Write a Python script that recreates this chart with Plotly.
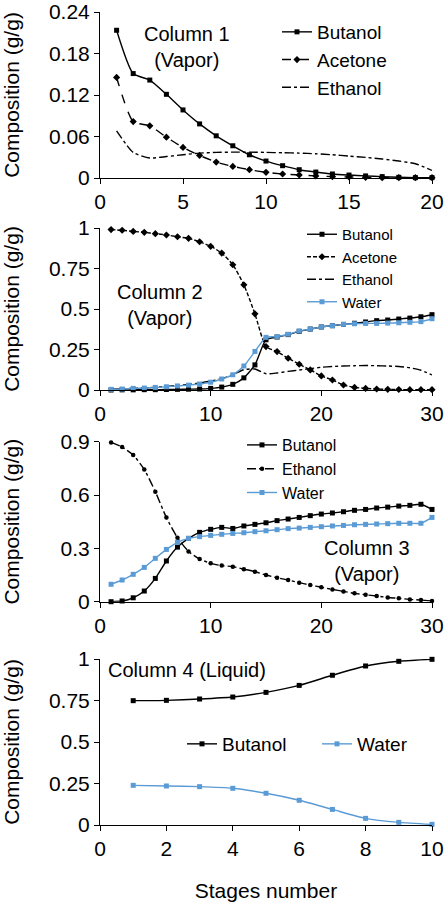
import plotly.graph_objects as go

FONT = "Liberation Sans, Arial, sans-serif"
BLUE = "#5B9BD5"

# ---------------- data ----------------
stages_c1 = list(range(1, 21))
c1_butanol = [0.2136, 0.151, 0.1416, 0.121, 0.0984, 0.0782, 0.061, 0.0466, 0.0336, 0.0245,
              0.0178, 0.012, 0.0086, 0.0058, 0.0043, 0.003, 0.002, 0.001, 0.0005, 0.0005]
c1_acetone = [0.1454, 0.0816, 0.0754, 0.059, 0.0442, 0.0326, 0.023, 0.0168, 0.012, 0.0082,
              0.0058, 0.0043, 0.003, 0.002, 0.0015, 0.001, 0.0005, 0.0005, 0.0005, 0.0005]
c1_ethanol = [0.068, 0.037, 0.029, 0.031, 0.0336, 0.036, 0.037, 0.0374, 0.0374, 0.037,
              0.0365, 0.036, 0.035, 0.0336, 0.0317, 0.0298, 0.0274, 0.0245, 0.0206, 0.011]

stages_c2 = list(range(1, 31))
c2_butanol = [0.000, 0.001, 0.001, 0.002, 0.002, 0.003, 0.004, 0.005, 0.006, 0.010,
              0.018, 0.035, 0.075, 0.155, 0.310, 0.327, 0.342, 0.362, 0.376, 0.389,
              0.397, 0.405, 0.412, 0.420, 0.428, 0.432, 0.438, 0.444, 0.452, 0.465]
c2_acetone = [0.990, 0.986, 0.979, 0.973, 0.965, 0.957, 0.946, 0.936, 0.915, 0.887,
              0.845, 0.773, 0.649, 0.470, 0.268, 0.237, 0.196, 0.159, 0.124, 0.087,
              0.062, 0.031, 0.016, 0.010, 0.006, 0.004, 0.003, 0.002, 0.002, 0.002]
c2_ethanol = [0.005, 0.007, 0.010, 0.013, 0.017, 0.022, 0.028, 0.035, 0.043, 0.055,
              0.070, 0.095, 0.125, 0.130, 0.100, 0.105, 0.115, 0.123, 0.132, 0.140,
              0.145, 0.148, 0.150, 0.151, 0.150, 0.148, 0.145, 0.137, 0.122, 0.093]
c2_water = [0.004, 0.006, 0.010, 0.012, 0.016, 0.020, 0.025, 0.030, 0.037, 0.048,
            0.068, 0.094, 0.148, 0.238, 0.325, 0.329, 0.344, 0.364, 0.376, 0.389,
            0.397, 0.405, 0.409, 0.411, 0.411, 0.413, 0.415, 0.418, 0.422, 0.440]

stages_c3 = list(range(1, 31))
c3_butanol = [0.000, 0.004, 0.022, 0.060, 0.131, 0.229, 0.307, 0.356, 0.390, 0.407,
              0.418, 0.412, 0.426, 0.435, 0.444, 0.456, 0.465, 0.474, 0.484, 0.493,
              0.499, 0.506, 0.514, 0.519, 0.527, 0.532, 0.538, 0.542, 0.548, 0.519]
c3_ethanol = [0.896, 0.870, 0.825, 0.744, 0.619, 0.473, 0.360, 0.283, 0.240, 0.216,
              0.203, 0.197, 0.183, 0.169, 0.150, 0.135, 0.122, 0.107, 0.094, 0.081,
              0.069, 0.058, 0.047, 0.039, 0.032, 0.024, 0.019, 0.013, 0.009, 0.004]
c3_water = [0.098, 0.122, 0.154, 0.193, 0.244, 0.294, 0.334, 0.356, 0.366, 0.373,
            0.379, 0.384, 0.388, 0.394, 0.399, 0.405, 0.411, 0.414, 0.418, 0.422,
            0.426, 0.429, 0.433, 0.435, 0.437, 0.439, 0.441, 0.441, 0.441, 0.474]

stages_c4 = list(range(1, 11))
c4_butanol = [0.749, 0.751, 0.759, 0.771, 0.799, 0.841, 0.902, 0.958, 0.986, 0.998]
c4_water = [0.239, 0.235, 0.231, 0.221, 0.191, 0.149, 0.094, 0.040, 0.016, 0.004]

# tick labels
y1_ticks = [0, 0.06, 0.12, 0.18, 0.24]
y1_text = ["0", "0.06", "0.12", "0.18", "0.24"]
y2_ticks = [0, 0.25, 0.5, 0.75, 1]
y2_text = ["0", "0.25", "0.5", "0.75", "1"]
y3_ticks = [0, 0.3, 0.6, 0.9]
y3_text = ["0", "0.3", "0.6", "0.9"]
y4_ticks = [0, 0.25, 0.5, 0.75, 1]
y4_text = ["0", "0.25", "0.5", "0.75", "1"]
x1_ticks = [0, 5, 10, 15, 20]
x23_ticks = [0, 10, 20, 30]
x4_ticks = [0, 2, 4, 6, 8, 10]

# ---------------- figure ----------------
W, H = 445, 902
ML, MR = 100, 13
PW = W - ML - MR

def px_x(px):
    return (px - ML) / PW

def px_y(py):
    return 1 - py / H

fig = go.Figure()

def add(x, y, name, axis, legend, color="black", dash="solid", symbol=None, msize=5):
    mode = "lines+markers" if symbol else "lines"
    kw = dict(x=x, y=y, name=name, mode=mode,
              line=dict(color=color, width=1.4, dash=dash, shape="spline", smoothing=0.6),
              xaxis="x" + ("" if axis == 1 else str(axis)),
              yaxis="y" + ("" if axis == 1 else str(axis)),
              legend=legend, cliponaxis=False)
    if symbol:
        kw["marker"] = dict(symbol=symbol, size=msize, color=color)
    fig.add_trace(go.Scatter(**kw))

add(stages_c1, c1_butanol, "Butanol", 1, "legend", symbol="square")
add(stages_c1, c1_acetone, "Acetone", 1, "legend", dash="dash", symbol="diamond", msize=5.5)
add(stages_c1, c1_ethanol, "Ethanol", 1, "legend", dash="dashdot")

add(stages_c2, c2_butanol, "Butanol", 2, "legend2", symbol="square")
add(stages_c2, c2_acetone, "Acetone", 2, "legend2", dash="4px,2px", symbol="diamond", msize=5.5)
add(stages_c2, c2_ethanol, "Ethanol", 2, "legend2", dash="dashdot")
add(stages_c2, c2_water, "Water", 2, "legend2", color=BLUE, symbol="square")

add(stages_c3, c3_butanol, "Butanol", 3, "legend3", symbol="square")
add(stages_c3, c3_ethanol, "Ethanol", 3, "legend3", dash="dashdot", symbol="circle", msize=4.5)
add(stages_c3, c3_water, "Water", 3, "legend3", color=BLUE, symbol="square")

add(stages_c4, c4_butanol, "Butanol", 4, "legend4", symbol="square")
add(stages_c4, c4_water, "Water", 4, "legend5", color=BLUE, symbol="square")

axis_common = dict(showline=True, linecolor="black", linewidth=1, ticks="outside",
                   ticklen=5, tickcolor="black", showgrid=False, zeroline=False,
                   tickfont=dict(family=FONT, size=21, color="black"))

layout = dict(
    width=W, height=H, plot_bgcolor="white", paper_bgcolor="white",
    margin=dict(l=ML, r=MR, t=0, b=0), showlegend=True,
    font=dict(family=FONT, color="black"),
)
specs = [
    (1, [0, 20], x1_ticks, [0, 0.24], y1_ticks, y1_text, 12, 178, 25),
    (2, [0, 30], x23_ticks, [0, 1], y2_ticks, y2_text, 228, 390, 25),
    (3, [0, 30], x23_ticks, [0, 0.9], y3_ticks, y3_text, 441.7, 601.7, 37),
    (4, [0, 10], x4_ticks, [0, 1], y4_ticks, y4_text, 659, 825, 25),
]
for i, xr, xt, yr, yt, ytt, top, bot, so in specs:
    s = "" if i == 1 else str(i)
    xa = dict(axis_common, range=xr, tickvals=xt, anchor="y" + s, domain=[0, 1], automargin=False)
    ya = dict(axis_common, range=yr, tickvals=yt, ticktext=ytt, anchor="x" + s,
              domain=[px_y(bot), px_y(top)], automargin=False,
              title=dict(text="Composition (g/g)",
                         font=dict(family=FONT, size=21, color="black"), standoff=so))
    if i == 4:
        xa["title"] = dict(text="Stages number", font=dict(family=FONT, size=21, color="black"),
                           standoff=25)
    layout["xaxis" + s] = xa
    layout["yaxis" + s] = ya

def leg(x, ytop, size, orientation="v"):
    return dict(x=px_x(x), y=px_y(ytop), xanchor="left", yanchor="top",
                bgcolor="rgba(0,0,0,0)", orientation=orientation,
                font=dict(family=FONT, size=size, color="black"),
                itemwidth=30, tracegroupgap=0)

layout["legend"] = leg(277, 13, 19)
layout["legend2"] = leg(302, 218, 15)
layout["legend3"] = leg(242, 428, 16)
layout["legend4"] = leg(182, 725, 19, orientation="h")
layout["legend5"] = leg(317, 725, 19, orientation="h")

ann_font = dict(family=FONT, size=20, color="black")
annotations = [
    dict(text="Column 1<br>(Vapor)", x=px_x(187), y=px_y(47), xanchor="center"),
    dict(text="Column 2<br>(Vapor)", x=px_x(160), y=px_y(305), xanchor="center"),
    dict(text="Column 3<br>(Vapor)", x=px_x(367), y=px_y(561), xanchor="center"),
    dict(text="Column 4 (Liquid)", x=px_x(106), y=px_y(670), xanchor="left"),
]
layout["annotations"] = [dict(a, xref="paper", yref="paper", showarrow=False,
                              font=ann_font, yanchor="middle")
                         for a in annotations]

fig.update_layout(**layout)
fig.write_html("out.html")
